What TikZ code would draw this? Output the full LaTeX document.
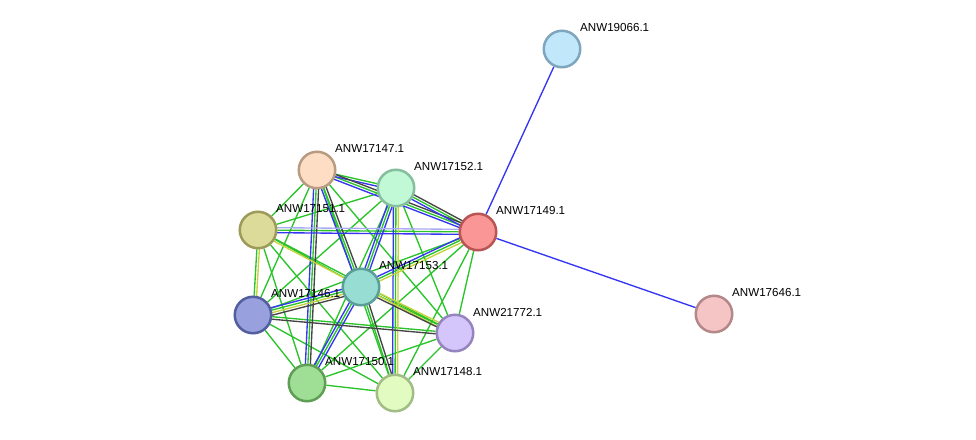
\documentclass[tikz,border=0pt]{standalone}
\usepackage{fontspec}
\setmainfont{Liberation Sans}
\usepackage{tikz}
\usetikzlibrary{calc, backgrounds}
\definecolor{nbgreen}{HTML}{2AC42A}
\definecolor{coblue}{HTML}{3535F2}
\definecolor{cxgrey}{HTML}{454545}
\definecolor{tmyellow}{HTML}{C6D33A}
\definecolor{dblav}{HTML}{ABABF4}

% parallel coloured strands between two proteins
\newcommand{\bundle}[3]{%
  \foreach \s/\o in {#3}
    \draw[\s] ($(#1)!\o!90:(#2)$) -- ($(#2)!\o!-90:(#1)$);
}

\begin{document}
\begin{tikzpicture}[
  x=1pt, y=-1pt,
  prot/.style={circle, minimum size=36.5pt, inner sep=0pt, line width=2.5pt},
  lbl/.style={font=\fontsize{11.6}{13}\selectfont, inner sep=1pt},
  nb/.style={nbgreen, line width=1.35pt},
  co/.style={coblue, line width=1.35pt},
  cx/.style={cxgrey, line width=1.35pt},
  tm/.style={tmyellow, line width=1.35pt},
  db/.style={dblav, line width=1.35pt}
]
  \useasboundingbox (0,0) rectangle (976,439);

  \node[prot, fill={rgb,255:red,193;green,231;blue,251}, draw={rgb,255:red,127;green,166;blue,190}] (n066) at (562,49) {};
  \node[prot, fill={rgb,255:red,253;green,221;blue,195}, draw={rgb,255:red,184;green,156;blue,130}] (n147) at (317,170) {};
  \node[prot, fill={rgb,255:red,193;green,248;blue,213}, draw={rgb,255:red,133;green,191;blue,157}] (n152) at (396,188) {};
  \node[prot, fill={rgb,255:red,220;green,219;blue,154}, draw={rgb,255:red,157;green,154;blue,90}] (n151) at (258,230) {};
  \node[prot, fill={rgb,255:red,251;green,150;blue,150}, draw={rgb,255:red,184;green,85;blue,85}] (n149) at (478,232) {};
  \node[prot, fill={rgb,255:red,152;green,221;blue,212}, draw={rgb,255:red,90;green,158;blue,152}] (n153) at (361,287) {};
  \node[prot, fill={rgb,255:red,152;green,160;blue,222}, draw={rgb,255:red,83;green,94;blue,158}] (n146) at (253,315) {};
  \node[prot, fill={rgb,255:red,212;green,197;blue,250}, draw={rgb,255:red,150;green,132;blue,190}] (n772) at (455,333) {};
  \node[prot, fill={rgb,255:red,245;green,197;blue,198}, draw={rgb,255:red,180;green,135;blue,137}] (n646) at (714,314) {};
  \node[prot, fill={rgb,255:red,158;green,222;blue,149}, draw={rgb,255:red,94;green,158;blue,85}] (n150) at (307,383) {};
  \node[prot, fill={rgb,255:red,225;green,251;blue,193}, draw={rgb,255:red,161;green,188;blue,132}] (n148) at (395,393) {};

  \node[lbl, anchor=west] at ($(n066)+(17,-21)$) {ANW19066.1};
  \node[lbl, anchor=west] at ($(n147)+(17,-21)$) {ANW17147.1};
  \node[lbl, anchor=west] at ($(n152)+(17,-21)$) {ANW17152.1};
  \node[lbl, anchor=west] at ($(n151)+(17,-21)$) {ANW17151.1};
  \node[lbl, anchor=west] at ($(n149)+(17,-21)$) {ANW17149.1};
  \node[lbl, anchor=west] at ($(n153)+(17,-21)$) {ANW17153.1};
  \node[lbl, anchor=west] at ($(n146)+(17,-21)$) {ANW17146.1};
  \node[lbl, anchor=west] at ($(n772)+(17,-21)$) {ANW21772.1};
  \node[lbl, anchor=west] at ($(n646)+(17,-21)$) {ANW17646.1};
  \node[lbl, anchor=west] at ($(n150)+(17,-21)$) {ANW17150.1};
  \node[lbl, anchor=west] at ($(n148)+(17,-21)$) {ANW17148.1};

  \begin{pgfonlayer}{background}
    % green between every pair of the cluster
    \foreach \a [count=\i] in {n147,n152,n151,n149,n153,n146,n772,n150,n148}
      \foreach \b [count=\j] in {n147,n152,n151,n149,n153,n146,n772,n150,n148}
        {\ifnum\j>\i \draw[nb] (\a) -- (\b); \fi}

    \bundle{n147}{n152}{co/-2.5pt}
    \bundle{n147}{n149}{co/-2.5pt, cx/2.5pt}
    \bundle{n147}{n153}{co/-2.5pt, cx/2.5pt}
    \bundle{n147}{n150}{co/-2.5pt, cx/2.5pt}
    \bundle{n152}{n149}{co/-2.5pt, cx/2.5pt}
    \bundle{n152}{n153}{co/-2.5pt, co/2.5pt}
    \bundle{n152}{n148}{co/-2.5pt, tm/2.5pt}
    \bundle{n151}{n149}{co/-2.5pt, db/2.5pt}
    \bundle{n151}{n772}{tm/-2.5pt}
    \bundle{n151}{n146}{tm/2.5pt}
    \bundle{n149}{n153}{co/-2.5pt, tm/2.5pt}
    \bundle{n153}{n146}{co/-2.5pt, tm/2.5pt, cx/5pt}
    \bundle{n153}{n772}{cx/-2.5pt, tm/2.5pt}
    \bundle{n153}{n150}{co/-2.5pt, co/2.5pt}
    \bundle{n153}{n148}{cx/2.5pt}
    \bundle{n146}{n772}{cx/-2.5pt}

    \draw[co] (n149) -- (n066);
    \draw[co] (n149) -- (n646);
  \end{pgfonlayer}
\end{tikzpicture}
\end{document}
